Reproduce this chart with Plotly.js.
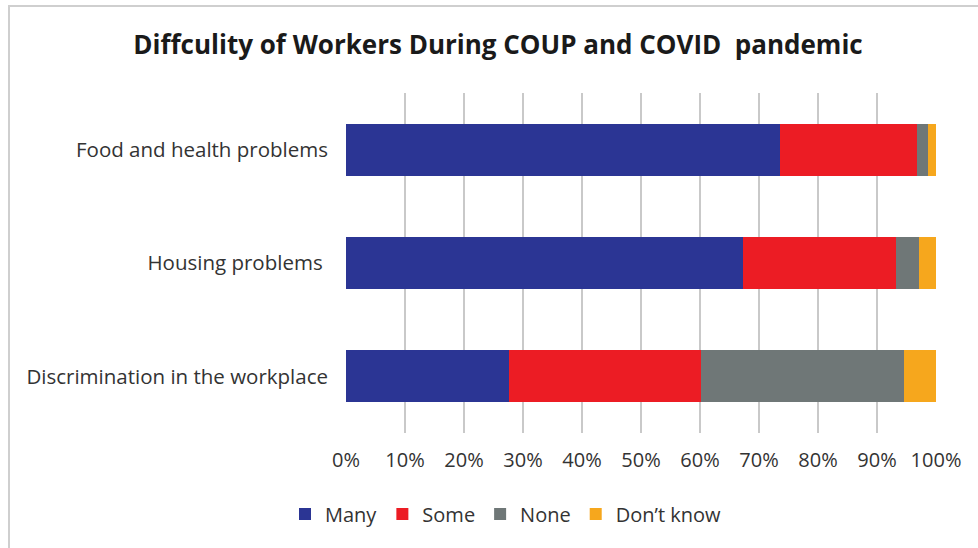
<!DOCTYPE html>
<html>
<head>
<meta charset="utf-8">
<script src="https://cdn.plot.ly/plotly-3.0.1.min.js"></script>
<style>
html,body{margin:0;padding:0;background:#fff;}
#wrap{position:relative;width:978px;height:548px;}
#chart{width:978px;height:548px;}
.bt{position:absolute;left:9px;top:5px;width:969px;height:2px;background:#cfcfcf;}
.bl{position:absolute;left:8px;top:5px;width:2px;height:543px;background:#cfcfcf;}
</style>
</head>
<body>
<div id="wrap">
<div id="chart"></div>
<div class="bt"></div>
<div class="bl"></div>
</div>
<script>
var categories = ["Food and health problems", "Housing problems\u00a0", "Discrimination in the workplace"];
var many = [73.5, 67.3, 27.7];
var some = [23.3, 25.9, 32.4];
var none = [1.9, 4.0, 34.5];
var dontKnow = [1.3, 2.8, 5.4];
var seriesNames = ["Many", "Some", "None", "Don\u2019t know"];
var seriesColors = ["#2B3594", "#EC1C24", "#6F7777", "#F6A71D"];
var seriesValues = [many, some, none, dontKnow];
var xTickVals = [0,10,20,30,40,50,60,70,80,90,100];
var xTickText = xTickVals.map(function(v){return v + "%";});

var traces = seriesValues.map(function(vals, i){
  return {
    type: "bar",
    orientation: "h",
    name: seriesNames[i],
    y: categories,
    x: vals,
    marker: {color: seriesColors[i], line: {width: 0}},
    hoverinfo: "x+name"
  };
});

var layout = {
  width: 978, height: 548,
  paper_bgcolor: "#fff", plot_bgcolor: "#fff",
  barmode: "stack",
  bargap: 0.54,
  margin: {l: 346, r: 42, t: 93, b: 115},
  title: {
    text: "<b>Diffculity of Workers During COUP and COVID\u00a0 pandemic</b>",
    font: {family: "Open Sans, sans-serif", size: 26, color: "#1a1a1a"},
    x: 498/978, xanchor: "center", xref: "container",
    y: 1 - 45/548, yanchor: "middle", yref: "container"
  },
  xaxis: {
    range: [0, 100],
    tickvals: xTickVals,
    ticktext: xTickText,
    showgrid: true, gridcolor: "#c9c9c9", gridwidth: 1.5,
    zeroline: false, showline: false,
    ticks: "", ticklabelstandoff: 13,
    tickfont: {family: "Open Sans, sans-serif", size: 20, color: "#333"},
    fixedrange: true
  },
  yaxis: {
    categoryorder: "array", categoryarray: categories,
    autorange: "reversed",
    showgrid: false, zeroline: false, showline: false,
    ticks: "", ticklabelstandoff: 17,
    tickfont: {family: "Open Sans, sans-serif", size: 20.5, color: "#333"},
    fixedrange: true
  },
  showlegend: true,
  legend: {
    orientation: "h",
    xref: "container", x: 506/978, xanchor: "center",
    yref: "container", y: 1 - 514/548, yanchor: "middle",
    font: {family: "Open Sans, sans-serif", size: 20, color: "#333"},
    traceorder: "normal",
    itemwidth: 30
  }
};

Plotly.newPlot("chart", traces, layout, {displayModeBar: false, staticPlot: true});
</script>
</body>
</html>
